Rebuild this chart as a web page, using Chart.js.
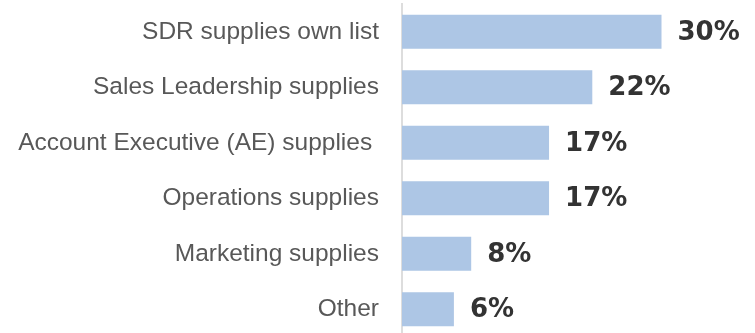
<!DOCTYPE html>
<html>
<head>
<meta charset="utf-8">
<title>List sources</title>
<script src="https://cdn.jsdelivr.net/npm/chart.js"></script>
<style>
  html, body { margin: 0; padding: 0; background: #fff; overflow: hidden; }
  canvas { display: block; }
</style>
</head>
<body>
<canvas id="sourceChart" width="755" height="337"></canvas>
<script>
const categories = [
  "SDR supplies own list",
  "Sales Leadership supplies",
  "Account Executive (AE) supplies ",
  "Operations supplies",
  "Marketing supplies",
  "Other",
];
const shares = [30, 22, 17, 17, 8, 6];
const valueLabels = ["30%", "22%", "17%", "17%", "8%", "6%"];

// writes the percentage just past the end of each bar
const valueLabelPlugin = {
  id: "valueLabels",
  afterDatasetsDraw(chart) {
    const { ctx } = chart;
    const bars = chart.getDatasetMeta(0).data;
    ctx.save();
    ctx.font = "bold 26px 'DejaVu Sans'";
    ctx.fillStyle = "#333333";
    ctx.textAlign = "left";
    ctx.textBaseline = "middle";
    bars.forEach((bar, i) => {
      ctx.fillText(valueLabels[i], bar.x + 16, bar.y + 1);
    });
    ctx.restore();
  },
};

const ctx = document.getElementById("sourceChart").getContext("2d");
new Chart(ctx, {
  type: "bar",
  data: {
    labels: categories,
    datasets: [{
      data: shares,
      backgroundColor: "#adc6e5",
      barPercentage: 0.615,
      categoryPercentage: 1,
    }],
  },
  options: {
    indexAxis: "y",
    responsive: false,
    animation: false,
    layout: { padding: { top: 4, right: 7, bottom: 0, left: 0 } },
    plugins: {
      legend: { display: false },
      tooltip: { enabled: false },
    },
    scales: {
      x: {
        display: false,
        min: 0,
        max: 40,
      },
      y: {
        grid: { display: false, drawTicks: false },
        border: { display: true, color: "#dddddd", width: 2 },
        ticks: {
          padding: 23,
          color: "#585858",
          font: { family: "'Liberation Sans', Arial, sans-serif", size: 24.5 },
        },
        afterFit(scale) {
          // fixed gutter for the labels, no extra room above/below the bars
          scale.width = 402;
          scale.paddingTop = 0;
          scale.paddingBottom = 0;
        },
      },
    },
  },
  plugins: [valueLabelPlugin],
});
</script>
</body>
</html>
